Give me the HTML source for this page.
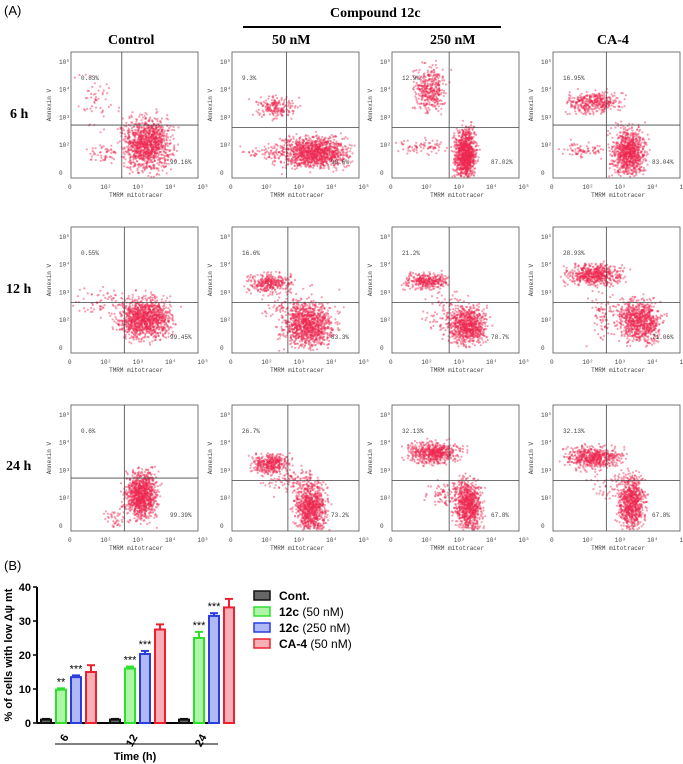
<!DOCTYPE html>
<html><head><meta charset="utf-8"><style>
body{margin:0;width:683px;height:764px;background:#fff;position:relative;overflow:hidden;font-family:"Liberation Serif",serif}
.t{position:absolute;white-space:nowrap}
.hd{font-weight:bold;font-size:14px}
</style></head><body>
<div class="t" style="left:4px;top:3px;font-family:'Liberation Sans';font-size:13px">(A)</div>
<div class="t hd" style="left:330px;top:6px">Compound 12c</div>
<div style="position:absolute;left:243px;top:26px;width:258px;height:2px;background:#000"></div>
<div class="t hd" style="left:108px;top:33px">Control</div>
<div class="t hd" style="left:272px;top:33px">50 nM</div>
<div class="t hd" style="left:430px;top:33px">250 nM</div>
<div class="t hd" style="left:597px;top:33px">CA-4</div>
<div class="t hd" style="left:10px;top:107px">6 h</div>
<div class="t hd" style="left:6px;top:282px">12 h</div>
<div class="t hd" style="left:6px;top:459px">24 h</div>
<svg id="flow" width="683" height="560" style="position:absolute;left:0;top:0"></svg>
<div class="t" style="left:4px;top:558px;font-family:'Liberation Sans';font-size:13px">(B)</div>
<svg id="bar" width="683" height="210" style="position:absolute;left:0;top:554px"></svg>
<script>
const NS="http://www.w3.org/2000/svg";
function mk(p,t,a){const e=document.createElementNS(NS,t);for(const k in a)e.setAttribute(k,a[k]);p.appendChild(e);return e;}
const colX=[71,232,392,553], rowY=[52,227,405], W=127,H=126;
const upperPct=[["0.83%","9.3%","12.9%","16.95%"],["0.55%","16.6%","21.2%","28.93%"],["0.6%","26.7%","32.13%","32.13%"]];
const lowerPct=[["99.16%","90.6%","87.02%","83.04%"],["99.45%","83.3%","78.7%","71.06%"],["99.39%","73.2%","67.8%","67.8%"]];
const quad=[[[.4,.58],[.43,.6],[.45,.6],[.42,.58]],[[.42,.6],[.44,.6],[.45,.6],[.42,.6]],[[.42,.58],[.44,.6],[.45,.6],[.42,.6]]];
const clusters=[
 [[[.6,.73,.09,.1,900],[.2,.38,.08,.12,40],[.25,.8,.06,.04,40]],[[.35,.44,.08,.04,150],[.65,.8,.12,.06,900],[.3,.8,.1,.03,60]],[[.3,.3,.06,.09,300],[.58,.82,.04,.1,800],[.25,.75,.1,.03,60]],[[.33,.4,.1,.04,300],[.6,.8,.06,.09,700],[.25,.78,.1,.03,60]]],
 [[[.58,.73,.1,.08,900],[.25,.6,.1,.05,50]],[[.3,.45,.08,.04,250],[.6,.78,.1,.08,800],[.5,.62,.12,.06,80]],[[.28,.43,.08,.03,250],[.6,.78,.07,.07,600],[.45,.7,.1,.1,80]],[[.33,.38,.1,.04,450],[.68,.75,.08,.08,650],[.4,.7,.05,.1,60]]],
 [[[.55,.72,.06,.09,800],[.35,.9,.04,.04,30]],[[.3,.47,.07,.04,300],[.62,.82,.06,.1,700],[.45,.6,.1,.05,80]],[[.33,.38,.1,.04,450],[.6,.8,.05,.1,650],[.45,.7,.1,.05,80]],[[.32,.42,.1,.04,450],[.62,.78,.05,.1,600],[.5,.65,.1,.05,60]]]];
let seed=7;function rnd(){seed=(seed*16807)%2147483647;return seed/2147483647;}
function gauss(){return (rnd()+rnd()+rnd()-1.5)/0.5;}
const flow=document.getElementById('flow');
for(let r=0;r<3;r++)for(let c=0;c<4;c++){
 const x0=colX[c],y0=rowY[r];
 const g=mk(flow,'g',{});
 
 
 for(const cl of clusters[r][c]){const n=Math.round(cl[4]*1.3);for(let i=0;i<n;i++){
   const px=x0+W*(cl[0]+cl[2]*gauss()), py=y0+H*(cl[1]+cl[3]*gauss());
   if(px<x0+1||px>x0+W-1||py<y0+1||py>y0+H-1)continue;
   mk(g,'circle',{cx:px.toFixed(1),cy:py.toFixed(1),r:1.1,fill:'#ee2850','fill-opacity':0.45});}}
 mk(g,'rect',{x:x0,y:y0,width:W,height:H,fill:'none',stroke:'#555','stroke-width':0.8});
 const q=quad[r][c];
 mk(g,'line',{x1:x0+W*q[0],x2:x0+W*q[0],y1:y0,y2:y0+H,stroke:'#444','stroke-width':0.8});
 mk(g,'line',{x1:x0,x2:x0+W,y1:y0+H*q[1],y2:y0+H*q[1],stroke:'#444','stroke-width':0.8});
 const tx=(s,x,y,a)=>{const e=mk(g,'text',Object.assign({x:x,y:y,'font-size':6,'font-family':'Liberation Mono',fill:'#444'},a||{}));e.textContent=s;return e;};
 tx(upperPct[r][c],x0+10,y0+28);
 tx(lowerPct[r][c],x0+W-28,y0+H-14);
 const xl=["0","10²","10³","10⁴","10⁵"];
 xl.forEach((s,i)=>tx(s,x0-3+i*W*0.255,y0+H+11));
 tx("TMRM mitotracer",x0+W*0.3,y0+H+19);
 ["10⁵","10⁴","10³","10²","0"].forEach((s,i)=>tx(s,x0-12,y0+12+i*H*0.22));
 tx("Annexin V",0,0,{transform:`translate(${x0-20},${y0+H*0.55}) rotate(-90)`});
}
const groups=["6","12","24"];
const seriesNames=["Cont.","12c (50 nM)","12c (250 nM)","CA-4 (50 nM)"];
const contVals=[1,1,1],contErr=[0.2,0.2,0.2];
const c50Vals=[9.8,16,25],c50Err=[0.4,0.6,1.8];
const c250Vals=[13.5,20.3,31.5],c250Err=[0.5,0.9,0.8];
const ca4Vals=[15,27.5,34],ca4Err=[2,1.5,2.5];
const stars=[["","**","***",""],["","***","***",""],["","***","***",""]];
const yTicks=[0,10,20,30,40];
const vals=[contVals,c50Vals,c250Vals,ca4Vals],errs=[contErr,c50Err,c250Err,ca4Err];
const cols=["#111","#2ee02e","#2a3ee0","#ee2030"],fills=["#666","#aef5a8","#b0b8f5","#f7b0b5"];
const bar=document.getElementById('bar');
const X0=37,Y0=169,ys=3.4,gx=[41,110,179];
const Y=v=>Y0-v*ys;
mk(bar,'line',{x1:X0,x2:X0,y1:Y(40),y2:Y0,stroke:'#000','stroke-width':2});
mk(bar,'line',{x1:X0,x2:220,y1:Y0,y2:Y0,stroke:'#000','stroke-width':2});
yTicks.forEach(t=>{mk(bar,'line',{x1:X0-4,x2:X0,y1:Y(t),y2:Y(t),stroke:'#000','stroke-width':1.5});
 const e=mk(bar,'text',{x:X0-6,y:Y(t)+4,'text-anchor':'end','font-size':11,'font-weight':'bold','font-family':'Liberation Sans'});e.textContent=t;
 });
const yt=mk(bar,'text',{transform:`translate(12,${Y(20)}) rotate(-90)`,'text-anchor':'middle','font-size':11,'font-weight':'bold','font-family':'Liberation Sans'});
yt.textContent="% of cells with low Δψ mt";

groups.forEach((gname,gi)=>{
 for(let s=0;s<4;s++){
  const x=gx[gi]+s*15,v=vals[s][gi],e=errs[s][gi];
  const b=mk(bar,'rect',{x:x,y:Y(v),width:10,height:v*ys,fill:fills[s],stroke:cols[s],'stroke-width':2});
  
  mk(bar,'line',{x1:x+5,x2:x+5,y1:Y(v),y2:Y(v+e),stroke:cols[s],'stroke-width':2});
  mk(bar,'line',{x1:x+1,x2:x+9,y1:Y(v+e),y2:Y(v+e),stroke:cols[s],'stroke-width':2});
  if(stars[gi][s]){const t=mk(bar,'text',{x:x+5,y:Y(v+e)-3,'text-anchor':'middle','font-size':11,'font-family':'Liberation Sans'});t.textContent=stars[gi][s];}
 }
 const tl=mk(bar,'text',{transform:`translate(${gx[gi]+28},${Y0+14}) rotate(-60)`,'text-anchor':'end','font-size':11,'font-weight':'bold','font-family':'Liberation Sans'});
 tl.textContent=gname;
});
mk(bar,'line',{x1:55,x2:218,y1:190,y2:190,stroke:'#000','stroke-width':1});
const xt=mk(bar,'text',{x:135,y:206,'text-anchor':'middle','font-size':11,'font-weight':'bold','font-family':'Liberation Sans'});
xt.textContent="Time (h)";
seriesNames.forEach((n,i)=>{
 const y=37+i*16;
 const le=mk(bar,'g',{});
 mk(le,'rect',{x:254,y:y,width:16,height:9,fill:fills[i],stroke:cols[i],'stroke-width':1.5});
 const t=mk(le,'text',{x:279,y:y+9,'font-size':12,'font-family':'Liberation Sans'});
 const p=n.split(' (');
 const b=mk(t,'tspan',{'font-weight':'bold'});b.textContent=p[0];
 if(p[1]){const s=mk(t,'tspan',{});s.textContent=' ('+p[1];}
});
</script>
</body></html>
